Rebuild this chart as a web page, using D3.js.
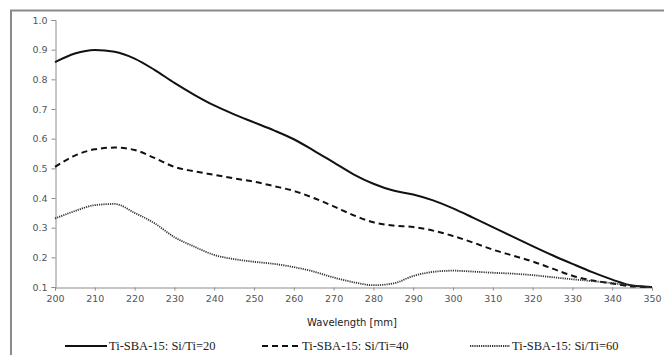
<!DOCTYPE html>
<html><head><meta charset="utf-8">
<script src="https://cdn.jsdelivr.net/npm/d3@7"></script>
<style>html,body{margin:0;padding:0;background:#fff;}svg{display:block;}</style>
</head><body>
<svg id="c" width="664" height="355"></svg>
<script>
const wavelengths = [200,205,210,215,220,225,230,235,240,245,250,255,260,265,270,275,280,285,290,295,300,305,310,315,320,325,330,335,340,345,350];
const si20 = [0.858,0.887,0.899,0.893,0.87,0.832,0.788,0.748,0.712,0.682,0.655,0.628,0.598,0.56,0.52,0.48,0.448,0.425,0.412,0.392,0.365,0.334,0.302,0.27,0.238,0.207,0.178,0.15,0.125,0.105,0.1];
const si40 = [0.505,0.543,0.564,0.57,0.562,0.535,0.505,0.49,0.478,0.466,0.455,0.44,0.424,0.4,0.372,0.342,0.318,0.307,0.302,0.29,0.272,0.25,0.226,0.206,0.186,0.162,0.138,0.122,0.112,0.102,0.1];
const si60 = [0.331,0.356,0.376,0.38,0.35,0.315,0.268,0.236,0.208,0.194,0.185,0.178,0.167,0.152,0.132,0.116,0.106,0.112,0.137,0.151,0.155,0.152,0.148,0.145,0.14,0.133,0.126,0.12,0.113,0.105,0.1];
const seriesNames = ["Ti-SBA-15: Si/Ti=20","Ti-SBA-15: Si/Ti=40","Ti-SBA-15: Si/Ti=60"];
const xTicks = [200,210,220,230,240,250,260,270,280,290,300,310,320,330,340,350];
const yTicks = [0.1,0.2,0.3,0.4,0.5,0.6,0.7,0.8,0.9,1.0];

const svg = d3.select("#c");
// outer frame (top and left edges visible)
svg.append("line").attr("x1",10).attr("x2",664).attr("y1",10.5).attr("y2",10.5)
  .attr("stroke","#8a8a8a").attr("stroke-width",2);
svg.append("line").attr("x1",11).attr("x2",11).attr("y1",10).attr("y2",355)
  .attr("stroke","#8a8a8a").attr("stroke-width",2);

const x = d3.scaleLinear().domain([200,350]).range([55,652]);
const y = d3.scaleLinear().domain([0.1,1.0]).range([287,20]);

// y axis
const ya = svg.append("g").attr("transform","translate(55.5,0)")
  .call(d3.axisLeft(y).tickValues(yTicks).tickFormat(d3.format(".1f")).tickSize(4).tickPadding(4));
// x axis
const xa = svg.append("g").attr("transform","translate(0,287.5)")
  .call(d3.axisBottom(x).tickValues(xTicks).tickFormat(d3.format("d")).tickSize(3).tickPadding(5));
[ya,xa].forEach(a=>{
  a.select(".domain").attr("stroke","#8c8c8c");
  a.selectAll(".tick line").attr("stroke","#8c8c8c");
  a.selectAll("text").attr("fill","#555").style("font-family","'DejaVu Sans', sans-serif").style("font-size","9.5px");
});

svg.append("text").attr("x",352).attr("y",326).attr("text-anchor","middle")
  .style("font-family","'DejaVu Sans', sans-serif").style("font-size","10px").attr("fill","#222")
  .text("Wavelength [mm]");

const styles = [
  {dash:null, w:2, c:"#111"},
  {dash:"6,4", w:2, c:"#111"},
  {dash:"1.2,1", w:1.8, c:"#333"}
];
const data = [si20,si40,si60];
const line = d3.line().x((d,i)=>x(wavelengths[i])).y(d=>y(d)).curve(d3.curveMonotoneX);
data.forEach((s,k)=>{
  svg.append("path").datum(s).attr("d",line).attr("fill","none")
    .attr("stroke",styles[k].c).attr("stroke-width",styles[k].w)
    .attr("stroke-dasharray",styles[k].dash);
});

// legend
const legX = [65,262,470];
const legLen = [42,38,40];
seriesNames.forEach((n,k)=>{
  svg.append("line").attr("x1",legX[k]).attr("x2",legX[k]+legLen[k]).attr("y1",346).attr("y2",346)
    .attr("stroke",styles[k].c).attr("stroke-width",styles[k].w).attr("stroke-dasharray",styles[k].dash);
  svg.append("text").attr("x",legX[k]+legLen[k]+2).attr("y",350)
    .style("font-family","'Liberation Serif', 'Times New Roman', serif").style("font-size","12.5px").attr("fill","#222")
    .text(n);
});
</script>
</body></html>
